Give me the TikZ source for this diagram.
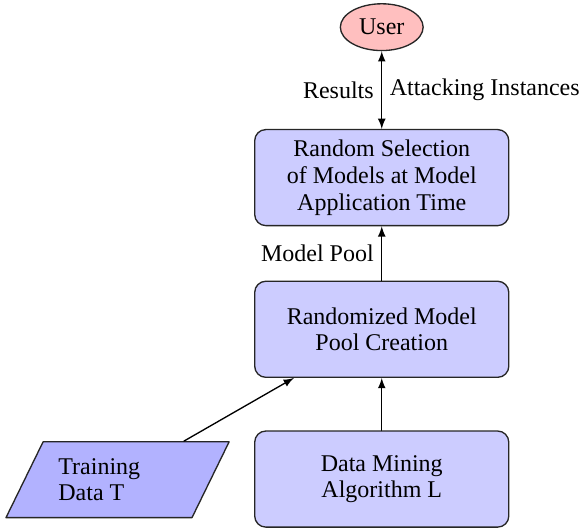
\documentclass[tikz,border=0pt]{standalone}
\usepackage{fontspec}
\setmainfont{Liberation Serif}
\usetikzlibrary{arrows,calc,shapes.geometric}

\begin{document}
\begin{tikzpicture}[line cap=round,line join=round,>=latex,x=1.0cm,y=1.0cm,
  font=\fontsize{10.8}{12}\selectfont,
  proc/.style={draw=black!85,line width=0.6pt,fill=blue!20,rounded corners=5pt,minimum width=4.02cm,minimum height=1.52cm,align=center},
  user/.style={draw=black!85,line width=0.6pt,fill=red!25,ellipse,minimum width=1.31cm,minimum height=0.74cm,inner sep=1pt},
  data/.style={draw=black!85,line width=0.6pt,fill=blue!30,trapezium,trapezium left angle=76,trapezium right angle=104,trapezium stretches=true,minimum width=3.53cm,minimum height=1.2cm},
  conn/.style={->,line width=0.6pt}]
\useasboundingbox (0,0) rectangle (9.24,8.40);
\node [user] (user) at (6.04,7.97) {User};
\node [proc] (select) at (6.04,5.59) {Random Selection\\of Models at Model\\Application Time};
\node [proc] (pool) at (6.04,3.19) {Randomized Model\\Pool Creation};
\node [proc] (algo) at (6.04,0.82) {Data Mining\\Algorithm L};
\node [data] (train) at (1.86,0.81) {};
\node [align=left,anchor=west] (traintext) at (0.80,0.81) {Training\\Data T};
\draw [<->,line width=0.6pt] (user) -- node[midway,left] {Results} node[midway,right] {Attacking Instances} (select);
\draw [conn] (pool) -- node[midway,left] {Model Pool} (select);
\draw [conn] (algo) -- (pool);
\draw [conn] ($(train.north)+(1.05,0)$) -- ($(pool.south west)+(0.63,0)$);
\end{tikzpicture}
\end{document}
